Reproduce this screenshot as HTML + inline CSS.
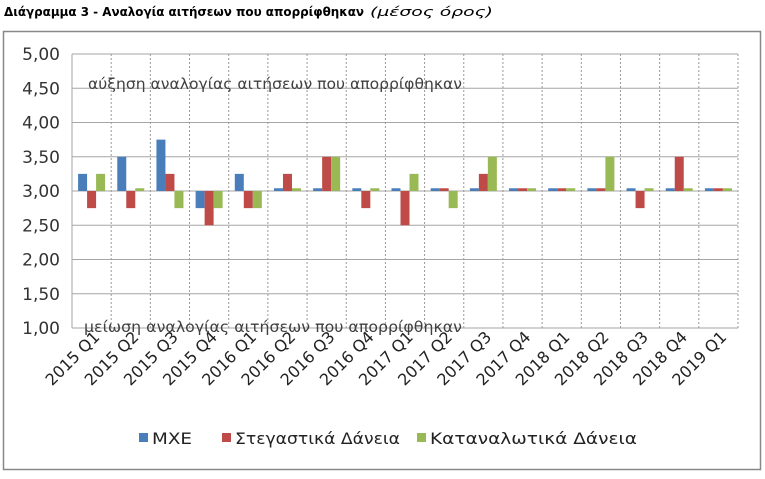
<!DOCTYPE html>
<html><head><meta charset="utf-8"><style>
body{margin:0;background:#fff;width:765px;height:475px;overflow:hidden;font-family:"DejaVu Sans","Liberation Sans",sans-serif}
</style></head><body>
<svg width="765" height="475" font-family="DejaVu Sans, Liberation Sans, sans-serif">
<text x="4" y="16" font-size="12" font-weight="bold" fill="#000" textLength="360" lengthAdjust="spacingAndGlyphs">Διάγραμμα 3 - Αναλογία αιτήσεων που απορρίφθηκαν</text>
<text x="370" y="16" font-size="12" font-style="italic" fill="#000" textLength="123" lengthAdjust="spacingAndGlyphs">(μέσος όρος)</text>
<rect x="3.5" y="31.5" width="757" height="438" fill="#fff" stroke="#888" stroke-width="1.5"/>
<g id="grid"></g><g id="bars"></g><g id="labels"></g>
<text x="88" y="89" font-size="15" fill="#404040" textLength="374" lengthAdjust="spacingAndGlyphs">αύξηση αναλογίας αιτήσεων που απορρίφθηκαν</text>
<text x="84" y="332" font-size="15" fill="#404040" textLength="378" lengthAdjust="spacingAndGlyphs">μείωση αναλογίας αιτήσεων που απορρίφθηκαν</text>
<g>
<rect x="139" y="433" width="9" height="9" fill="#4a7ebb"/>
<text x="152" y="444" font-size="16" fill="#222" textLength="40" lengthAdjust="spacingAndGlyphs">ΜΧΕ</text>
<rect x="222" y="433" width="9" height="9" fill="#be4b48"/>
<text x="235" y="444" font-size="16" fill="#222" textLength="165" lengthAdjust="spacingAndGlyphs">Στεγαστικά Δάνεια</text>
<rect x="417" y="433" width="9" height="9" fill="#98b954"/>
<text x="430" y="444" font-size="16" fill="#222" textLength="207" lengthAdjust="spacingAndGlyphs">Καταναλωτικά Δάνεια</text>
</g>
</svg>
<script>
const categories=["2015 Q1","2015 Q2","2015 Q3","2015 Q4","2016 Q1","2016 Q2","2016 Q3","2016 Q4","2017 Q1","2017 Q2","2017 Q3","2017 Q4","2018 Q1","2018 Q2","2018 Q3","2018 Q4","2019 Q1"];
const mxe=[3.25,3.5,3.75,2.75,3.25,3.04,3.04,3.04,3.04,3.04,3.04,3.04,3.04,3.04,3.04,3.04,3.04];
const housing=[2.75,2.75,3.25,2.5,2.75,3.25,3.5,2.75,2.5,3.04,3.25,3.04,3.04,3.04,2.75,3.5,3.04];
const consumer=[3.25,3.04,2.75,2.75,2.75,3.04,3.5,3.04,3.25,2.75,3.5,3.04,3.04,3.5,3.04,3.04,3.04];
const yTicks=[1,1.5,2,2.5,3,3.5,4,4.5,5];
const baseline=3;
const NS="http://www.w3.org/2000/svg";
const L=72,R=738,T=54,B=328,ymin=1,ymax=5;
const y=v=>B-(v-ymin)/(ymax-ymin)*(B-T);
const cw=(R-L)/categories.length;
const x=i=>L+i*cw;
function mk(tag,attrs,parent){const e=document.createElementNS(NS,tag);for(const k in attrs)e.setAttribute(k,attrs[k]);document.getElementById(parent).appendChild(e);return e;}
yTicks.forEach(t=>{
 const l=mk('line',{x1:L,x2:R,y1:y(t),y2:y(t),stroke:'#a6a6a6','stroke-width':1},'grid');
 
 
 const tx=mk('text',{x:L-12,y:y(t)+6,'text-anchor':'end','font-size':17,fill:'#333'},'labels');
 tx.textContent=t.toFixed(2).replace('.',',');
 
 
});
const lv=mk('line',{x1:L,x2:L,y1:T,y2:B,stroke:'#a6a6a6'},'grid');


categories.forEach((c,i)=>{
 const d=mk('line',{x1:x(i+1),x2:x(i+1),y1:T,y2:B,stroke:'#999','stroke-dasharray':'2,2'},'grid');
 
 
 const cx=x(i)+cw/2;
 const tx=mk('text',{x:cx+9,y:B+10,'text-anchor':'end','font-size':16,fill:'#222',transform:`rotate(-45 ${cx+9} ${B+10})`},'labels');
 tx.textContent=c;
 
 
 const bw=9,start=cx-bw*1.5;
 [[mxe,'#4a7ebb','bar-mxe'],[housing,'#be4b48','bar-housing'],[consumer,'#98b954','bar-consumer']].forEach((s,j)=>{
  const v=s[0][i];const y0=y(Math.max(v,baseline)),y1=y(Math.min(v,baseline));
  const r=mk('rect',{x:start+j*bw,y:y0,width:bw,height:Math.max(y1-y0,1),fill:s[1]},'bars');
  
  
 });
});
</script>
</body></html>
